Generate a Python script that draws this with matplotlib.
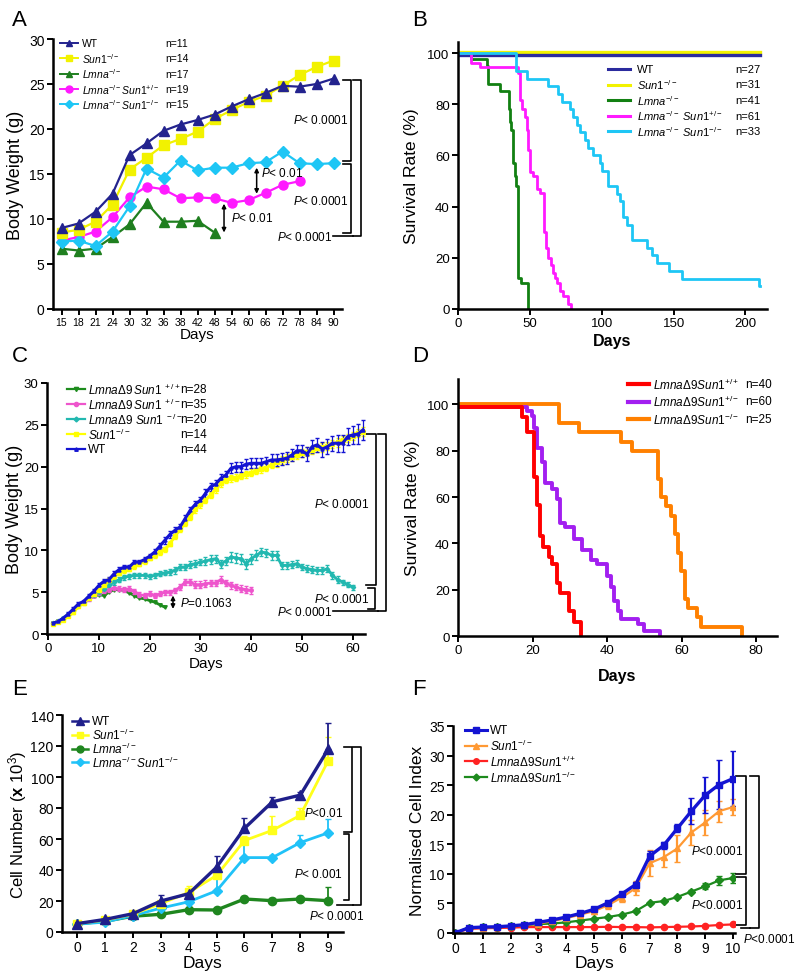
import numpy as np
import matplotlib
matplotlib.use("Agg")
import matplotlib.pyplot as plt
from matplotlib.lines import Line2D

plt.rcParams.update({
    "font.family": "Liberation Sans",
    "mathtext.fontset": "custom",
    "mathtext.rm": "Liberation Sans",
    "mathtext.it": "Liberation Sans:italic",
    "mathtext.bf": "Liberation Sans:bold",
    "mathtext.sf": "Liberation Sans",
})

# ---------------- data ----------------
# A: body weight, Lmna/Sun1
A_days = ["15", "18", "21", "24", "30", "32", "36", "38", "42", "48", "54", "60", "66", "72", "78", "84", "90"]
A_wt = [9.0, 9.5, 10.8, 12.8, 17.1, 18.4, 19.8, 20.5, 21.0, 21.6, 22.5, 23.3, 24.0, 24.8, 24.7, 25.0, 25.6]
A_sun = [8.5, 8.8, 9.7, 11.6, 15.5, 16.8, 18.2, 18.9, 19.7, 21.1, 22.1, 23.0, 23.7, 24.8, 26.0, 26.9, 27.6]
A_lmna = [6.7, 6.5, 6.7, 8.0, 9.4, 11.8, 9.7, 9.7, 9.8, 8.5]
A_het = [7.6, 8.0, 8.6, 10.2, 12.4, 13.6, 13.3, 12.3, 12.4, 12.3, 11.8, 12.1, 12.9, 13.8, 14.2]
A_ko = [7.5, 7.6, 7.0, 8.6, 11.4, 15.6, 14.6, 16.5, 15.4, 15.7, 15.7, 16.2, 16.3, 17.5, 16.2, 16.1, 16.2]
A_n = ["n=11", "n=14", "n=17", "n=19", "n=15"]

# B: survival (step curves)
B_wt_t, B_wt_s = [0, 210], [99.2, 99.2]
B_sun_t, B_sun_s = [0, 210], [100.5, 100.5]
B_lmna_t = [0, 9, 20, 21, 29, 35.5, 36, 37, 38, 38.5, 39.5, 40.5, 41.5, 42, 43.5, 48.5]
B_lmna_s = [100, 97.5, 95, 88, 85, 78, 73, 70, 61, 57, 52, 48, 44, 12, 10, 0]
B_het_t = [0, 9, 15, 42, 43, 44.2, 46.5, 47.7, 48.8, 50, 52.3, 54.7, 57, 59.8, 61.2, 62.8,
           64.4, 65.8, 67.5, 68.6, 70.9, 73.3, 76.8, 78.4]
B_het_s = [100, 96, 94.5, 92, 81.5, 78, 75, 70, 62, 53.5, 52, 47, 45.5, 30, 24, 20,
           17, 14, 12, 10, 7, 5, 2, 0]
B_ko_t = [0, 40.7, 47.7, 62.8, 69.8, 72.1, 77.9, 80.2, 82.6, 84.9, 88.4, 90.7, 94.2, 98.9,
          100, 104.7, 110.5, 112.8, 115.1, 117.5, 121, 131.4, 134.9, 138.4, 146.5, 155.8, 209.3, 210]
B_ko_s = [100, 93, 90, 87, 84, 81, 78, 75, 72, 69, 66, 63, 60, 57,
          54, 48, 45, 42, 36, 33, 27, 24, 21, 18, 15, 11.7, 9, 9]
B_n = ["n=27", "n=31", "n=41", "n=61", "n=33"]

# C: body weight, LmnaD9/Sun1 (daily)
C_wt = [1.3, 1.5, 1.9, 2.4, 3.0, 3.6, 3.9, 4.5, 5.1, 5.8, 6.3, 6.5, 7.2, 7.7, 8.0, 8.0, 8.6, 8.6, 8.9, 9.3,
        9.8, 10.5, 11.2, 11.9, 12.4, 12.8, 13.8, 14.8, 15.5, 16.0, 16.8, 17.6, 17.9, 18.6, 19.0, 19.8, 20.0, 20.0, 20.3, 20.4,
        20.4, 20.4, 20.6, 20.8, 20.8, 20.9, 21.0, 21.4, 21.9, 21.9, 21.5, 22.4, 22.6, 22.1, 22.4, 22.8, 22.8, 22.8, 23.6, 23.8,
        23.9, 24.4]
C_wt_err = [0.1, 0.1, 0.1, 0.2, 0.2, 0.2, 0.2, 0.3, 0.3, 0.3, 0.3, 0.3, 0.3, 0.3, 0.3, 0.3, 0.3, 0.3, 0.3, 0.3,
            0.4, 0.4, 0.4, 0.4, 0.4, 0.4, 0.4, 0.4, 0.4, 0.4, 0.5, 0.5, 0.5, 0.5, 0.5, 0.6, 0.6, 0.6, 0.6, 0.6,
            0.6, 0.6, 0.6, 0.7, 0.7, 0.7, 0.7, 0.7, 0.7, 0.7, 0.8, 0.8, 0.8, 0.9, 0.9, 0.9, 1.0, 1.0, 1.0, 1.1,
            1.2, 1.2]
C_sun = [1.2, 1.4, 1.7, 2.1, 2.6, 3.3, 3.7, 4.3, 4.8, 5.3, 5.8, 6.4, 6.9, 7.3, 7.6, 7.8, 8.1, 8.4, 8.7, 9.1,
         9.4, 9.8, 10.1, 10.8, 11.7, 12.5, 13.3, 14.0, 14.9, 15.5, 16.0, 16.6, 17.3, 18.0, 18.4, 18.6, 18.7, 18.9, 19.1, 19.3,
         19.5, 19.7, 19.9, 20.2, 20.5, 20.8, 21.0, 21.2, 21.4, 21.6, 21.8, 22.0, 22.2, 22.3, 22.5, 22.7, 22.9, 23.2, 23.4, 23.7,
         24.0, 24.2]
C_sun_err = [0.1, 0.1, 0.1, 0.1, 0.2, 0.2, 0.2, 0.2, 0.2, 0.2, 0.2, 0.2, 0.3, 0.3, 0.3, 0.3, 0.3, 0.3, 0.3, 0.3,
             0.3, 0.3, 0.3, 0.3, 0.3, 0.3, 0.4, 0.4, 0.4, 0.4, 0.4, 0.4, 0.4, 0.4, 0.4, 0.4, 0.4, 0.4, 0.4, 0.4,
             0.4, 0.4, 0.4, 0.4, 0.5, 0.5, 0.5, 0.5, 0.5, 0.5, 0.5, 0.5, 0.5, 0.5, 0.5, 0.5, 0.5, 0.5, 0.5, 0.5,
             0.5, 0.5]
C_ko = [1.3, 1.5, 1.9, 2.3, 2.8, 3.4, 3.8, 4.3, 4.7, 5.0, 5.4, 5.8, 6.2, 6.5, 6.8, 6.9, 7.0, 7.0, 7.0, 6.9,
        7.0, 7.2, 7.3, 7.4, 7.6, 8.0, 8.0, 8.3, 8.4, 8.6, 8.7, 8.9, 9.0, 8.4, 8.7, 9.2, 9.1, 9.0, 8.4, 9.0,
        9.4, 9.8, 9.7, 9.4, 9.4, 8.2, 8.2, 8.3, 8.4, 8.0, 7.8, 7.7, 7.6, 7.6, 7.8, 7.0, 6.5, 6.2, 5.9, 5.6]
C_ko_err = [0.1, 0.1, 0.1, 0.2, 0.2, 0.2, 0.2, 0.2, 0.3, 0.3, 0.3, 0.3, 0.3, 0.3, 0.3, 0.3, 0.3, 0.3, 0.3, 0.3,
            0.3, 0.3, 0.3, 0.4, 0.4, 0.4, 0.4, 0.4, 0.4, 0.4, 0.5, 0.5, 0.5, 0.5, 0.5, 0.6, 0.6, 0.6, 0.6, 0.6,
            0.6, 0.5, 0.5, 0.5, 0.5, 0.4, 0.4, 0.4, 0.4, 0.4, 0.4, 0.4, 0.4, 0.4, 0.4, 0.4, 0.4, 0.3, 0.3, 0.3]
C_het = [1.3, 1.5, 1.8, 2.3, 2.8, 3.4, 3.8, 4.2, 4.6, 4.9, 5.1, 5.3, 5.5, 5.4, 5.3, 5.4, 5.1, 4.7, 4.6, 4.8,
         4.6, 4.8, 5.0, 5.0, 5.2, 5.6, 6.2, 6.2, 5.9, 5.9, 6.0, 6.1, 6.1, 6.5, 6.1, 5.8, 5.6, 5.4, 5.3, 5.2]
C_het_err = [0.1, 0.1, 0.1, 0.1, 0.2, 0.2, 0.2, 0.2, 0.2, 0.2, 0.2, 0.3, 0.3, 0.3, 0.3, 0.3, 0.3, 0.3, 0.3, 0.3,
             0.3, 0.3, 0.3, 0.3, 0.3, 0.4, 0.4, 0.4, 0.4, 0.4, 0.4, 0.4, 0.4, 0.4, 0.4, 0.4, 0.4, 0.4, 0.4, 0.4]
C_lmna = [1.3, 1.5, 1.8, 2.3, 2.8, 3.4, 3.8, 4.2, 4.5, 4.7, 4.6, 5.0, 5.3, 5.3, 5.2, 4.9, 4.6, 4.3, 4.2, 4.0,
          3.8, 3.5, 3.2]
C_n = ["n=28", "n=35", "n=20", "n=14", "n=44"]

# D: survival LmnaD9
D_ff_t = [0, 17.1, 18.5, 20.3, 21.2, 21.9, 22.8, 24.3, 25.2, 26.6, 27.5, 29.7, 31.1, 32.9]
D_ff_s = [99, 94.7, 88.2, 68.6, 56.4, 43.4, 38.3, 34, 31, 23, 18.5, 11, 6, 0]
D_het_t = [0, 18.5, 19.8, 20.3, 21.2, 22.5, 23.4, 25.2, 26.6, 27.5, 28.8, 31.1, 33.3, 35.6,
           37.4, 40.1, 41, 41.9, 42.8, 43.7, 48.2, 50, 54.1]
D_het_s = [99, 97, 95, 90, 81, 75, 66, 63.5, 59, 49, 47, 42, 37, 33,
           31, 26, 21, 15, 11, 7.5, 5, 2, 0]
D_ko_t = [0, 27, 32.4, 43.7, 46.8, 53.6, 54.5, 55.9, 57.2, 58.1, 59, 59.9, 60.8, 61.7, 64, 65.3, 76.1]
D_ko_s = [100, 92, 88, 84, 80, 68, 60, 56, 52, 44, 36, 28, 16, 12, 8, 4, 0]
D_n = ["n=40", "n=60", "n=25"]

# E: cell number
E_days = [0, 1, 2, 3, 4, 5, 6, 7, 8, 9]
E_wt = [5.4, 8.1, 11.8, 20.0, 24.7, 41.8, 66.9, 84.0, 88.3, 118.0]
E_wt_err = [0.5, 1.0, 1.5, 3.6, 2.0, 7.5, 6.4, 2.8, 1.8, 17.0]
E_sun = [5.4, 7.7, 11.5, 18.3, 25.5, 36.5, 59.0, 65.6, 75.3, 110.5]
E_sun_err = [0.5, 1.0, 2.0, 2.0, 4.3, 4.0, 3.0, 9.4, 4.5, 15.6]
E_lmna = [5.4, 6.9, 10.2, 11.4, 14.4, 14.2, 21.3, 20.2, 21.3, 20.2]
E_lmna_err = [0.5, 0.5, 1.0, 1.0, 1.5, 1.5, 2.0, 1.5, 1.5, 8.8]
E_ko = [5.0, 6.4, 10.6, 15.4, 19.5, 26.6, 48.0, 48.0, 57.7, 64.0]
E_ko_err = [0.5, 0.5, 1.0, 2.0, 2.0, 9.0, 10.0, 2.0, 5.0, 9.0]

# F: normalised cell index
F_days = [0, 0.5, 1, 1.5, 2, 2.5, 3, 3.5, 4, 4.5, 5, 5.5, 6, 6.5, 7, 7.5, 8, 8.5, 9, 9.5, 10]
F_wt = [0, 0.9, 1.0, 1.05, 1.2, 1.4, 1.8, 2.2, 2.7, 3.3, 4.0, 5.1, 6.6, 8.2, 13.0, 14.8, 17.7, 20.6, 23.3, 25.1, 26.1]
F_wt_err = [0, 0.1, 0.1, 0.1, 0.1, 0.1, 0.15, 0.2, 0.2, 0.25, 0.3, 0.35, 0.4, 0.5, 0.8, 0.6, 0.7, 2.2, 3.0, 4.2, 4.6]
F_sun = [0, 0.8, 0.9, 1.0, 1.1, 1.3, 1.6, 2.0, 2.5, 3.1, 3.7, 4.7, 6.0, 7.6, 11.8, 12.8, 14.3, 17.0, 18.7, 20.6, 21.3]
F_sun_err = [0, 0.1, 0.1, 0.1, 0.1, 0.15, 0.2, 0.2, 0.3, 0.4, 0.5, 0.6, 0.8, 1.2, 2.2, 1.7, 2.3, 2.1, 2.1, 1.8, 1.4]
F_ff = [0, 0.7, 0.8, 0.85, 0.9, 1.0, 1.0, 1.0, 1.0, 1.0, 1.0, 1.05, 1.0, 1.0, 0.95, 1.0, 1.05, 1.1, 1.2, 1.35, 1.45]
F_ko = [0, 0.9, 1.0, 1.0, 1.1, 1.3, 1.5, 1.6, 1.8, 2.1, 2.4, 2.7, 3.1, 3.7, 5.1, 5.4, 6.1, 7.0, 7.9, 8.9, 9.3]
F_ko_err = [0, 0.05, 0.05, 0.05, 0.05, 0.05, 0.05, 0.1, 0.1, 0.1, 0.1, 0.1, 0.1, 0.15, 0.2, 0.2, 0.2, 0.2, 0.5, 0.8, 0.8]

# labels
WT = "WT"
SUN = r"$\mathit{Sun1}^{-/-}$"
LMNA = r"$\mathit{Lmna}^{-/-}$"
LS_HET = r"$\mathit{Lmna}^{-/-}\mathit{Sun1}^{+/-}$"
LS_KO = r"$\mathit{Lmna}^{-/-}\mathit{Sun1}^{-/-}$"
LS_HET_B = r"$\mathit{Lmna}^{-/-}\ \mathit{Sun1}^{+/-}$"
LS_KO_B = r"$\mathit{Lmna}^{-/-}\ \mathit{Sun1}^{-/-}$"
D9_FF = r"$\mathit{Lmna\Delta9Sun1}^{+/+}$"
D9_HET = r"$\mathit{Lmna\Delta9Sun1}^{+/-}$"
D9_KO = r"$\mathit{Lmna\Delta9Sun1}^{-/-}$"
D9_HET_C = r"$\mathit{Lmna\Delta9\,Sun1}^{\ +/-}$"
D9_FF_C = r"$\mathit{Lmna\Delta9\,Sun1}^{\ +/+}$"
D9_KO_C = r"$\mathit{Lmna\Delta9\ Sun1}^{\ -/-}$"
P4 = r"$\mathit{P}$< 0.0001"
P4b = r"$\mathit{P}$<0.0001"

W, H = 800, 979
fig = plt.figure(figsize=(8, 9.79), dpi=100)


def fx(px):
    return px / W


def fy(py):
    return 1 - py / H


def add_ax(l, t, r, b):
    ax = fig.add_axes([fx(l), fy(b), (r - l) / W, (b - t) / H])
    ax.spines[["top", "right"]].set_visible(False)
    ax.spines[["left", "bottom"]].set_linewidth(1.8)
    ax.tick_params(width=1.4, length=4, labelsize=10, direction="out", pad=2)
    return ax


def legend(rows, x0, x1, xt, y0, dy, fs, xn=None, ns=None):
    for i, (label, color, marker, ms, lw) in enumerate(rows):
        y = fy(y0 + i * dy)
        fig.add_artist(Line2D([fx(x0), fx(x1)], [y, y], color=color, lw=lw))
        if marker:
            fig.add_artist(Line2D([fx((x0 + x1) / 2)], [y], color=color, marker=marker, ms=ms, lw=0))
        fig.text(fx(xt), y, label, fontsize=fs, va="center")
        if xn is not None:
            fig.text(fx(xn), y, ns[i], fontsize=fs, va="center")


def bracket(ax, x_in, x_out, y_top, y_bot, lw=1.2):
    ax.plot([x_in, x_out, x_out, x_in], [y_top, y_top, y_bot, y_bot], color="black", lw=lw, clip_on=False)


def darrow(ax, x, y1, y2):
    ax.annotate("", xy=(x, y1), xytext=(x, y2), annotation_clip=False,
                arrowprops=dict(arrowstyle="<|-|>", lw=1.1, color="black", shrinkA=0, shrinkB=0,
                                mutation_scale=6))


def ptext(ax, x, y, s, ha="right", fs=8.5):
    ax.text(x, y, s, ha=ha, va="center", fontsize=fs, clip_on=False)


# ---------------- A ----------------
axA = add_ax(53, 40, 342, 310)
xa = np.arange(len(A_days))
c_navy, c_yel, c_grn, c_mag, c_cyan = "#23238e", "#f2f200", "#1f7f1f", "#ff1aff", "#1ec6f5"
axA.plot(xa[:len(A_lmna)], A_lmna, color=c_grn, marker="^", ms=6.5, lw=1.6)
axA.plot(xa[:len(A_het)], A_het, color=c_mag, marker="o", ms=6.5, lw=1.6)
axA.plot(xa, A_ko, color=c_cyan, marker="D", ms=6, lw=1.6)
axA.plot(xa, A_sun, color=c_yel, marker="s", ms=6.5, lw=1.6)
axA.plot(xa, A_wt, color=c_navy, marker="^", ms=6.5, lw=1.6)
axA.set_xlim(-0.5, 16.5)
axA.set_ylim(0, 30)
axA.set_xticks(xa)
axA.set_xticklabels(A_days, fontsize=7.5)
axA.set_yticks(range(0, 31, 5))
axA.set_ylabel("Body Weight (g)", fontsize=13)
axA.yaxis.set_label_coords(-0.10, 0.5)
axA.set_xlabel("Days", fontsize=11)
axA.xaxis.set_label_coords(0.5, -0.068)
bracket(axA, 16.58, 17.01, 25.4, 16.4)
bracket(axA, 16.58, 17.01, 16.1, 8.5)
bracket(axA, 17.16, 17.62, 25.4, 8.1)
axA.plot([15.99, 17.16], [8.1, 8.1], color="black", lw=1.2, clip_on=False)
ptext(axA, 16.85, 21.1, P4)
ptext(axA, 16.85, 12.0, P4)
ptext(axA, 15.95, 8.1, P4)
darrow(axA, 11.48, 15.7, 12.8)
ptext(axA, 11.75, 15.2, r"$\mathit{P}$< 0.01", ha="left")
darrow(axA, 9.56, 11.7, 8.5)
ptext(axA, 9.95, 10.2, r"$\mathit{P}$< 0.01", ha="left")
legend([(WT, c_navy, "^", 5, 1.4), (SUN, c_yel, "s", 5, 1.4), (LMNA, c_grn, "^", 5, 1.4),
        (LS_HET, c_mag, "o", 5, 1.4), (LS_KO, c_cyan, "D", 4.5, 1.4)],
       60, 78, 82, 44, 15.3, 7.5, xn=165, ns=A_n)

# ---------------- B ----------------
axB = add_ax(458, 43, 767, 310)
b_navy, b_grn = "#2b2b9e", "#128012"
axB.step(B_sun_t, B_sun_s, where="post", color=c_yel, lw=2.4)
axB.step(B_wt_t, B_wt_s, where="post", color=b_navy, lw=2.4)
axB.step(B_lmna_t, B_lmna_s, where="post", color=b_grn, lw=2.0)
axB.step(B_het_t, B_het_s, where="post", color=c_mag, lw=2.0)
axB.step(B_ko_t, B_ko_s, where="post", color=c_cyan, lw=2.0)
axB.set_xlim(0, 215)
axB.set_ylim(0, 104.3)
axB.set_xticks([0, 50, 100, 150, 200])
axB.set_yticks(range(0, 101, 20))
axB.tick_params(labelsize=9.5)
axB.set_ylabel("Survival Rate (%)", fontsize=12.5)
axB.yaxis.set_label_coords(-0.125, 0.5)
axB.set_xlabel("Days", fontsize=11.5, fontweight="bold")
axB.xaxis.set_label_coords(0.5, -0.09)
legend([(WT, b_navy, None, 0, 2.2), (SUN, c_yel, None, 0, 2.2), (LMNA, b_grn, None, 0, 2.2),
        (LS_HET_B, c_mag, None, 0, 2.2), (LS_KO_B, c_cyan, None, 0, 2.2)],
       608, 630, 637, 70, 15.5, 8, xn=735, ns=B_n)

# ---------------- C ----------------
axC = add_ax(47, 384, 365, 635)
cc_grn, cc_mag, cc_cyan, cc_yel, cc_blue = "#1d8c1d", "#ee55cc", "#22b8b0", "#ffff00", "#1414d2"
d_wt = np.arange(1, len(C_wt) + 1)
axC.plot(np.arange(1, len(C_lmna) + 1), C_lmna, color=cc_grn, marker="v", ms=2.5, lw=2)
axC.errorbar(np.arange(1, len(C_het) + 1), C_het, yerr=C_het_err, color=cc_mag, marker="o", ms=2.5,
             lw=2, elinewidth=0.9, capsize=1.2)
axC.errorbar(np.arange(1, len(C_ko) + 1), C_ko, yerr=C_ko_err, color=cc_cyan, marker="D", ms=2.2,
             lw=2, elinewidth=0.9, capsize=1.2)
axC.errorbar(d_wt, C_sun, yerr=C_sun_err, color=cc_yel, marker="s", ms=2.2,
             lw=2.2, elinewidth=0.9, capsize=1.2)
axC.errorbar(d_wt, C_wt, yerr=C_wt_err, color=cc_blue, marker="^", ms=2.2,
             lw=2.2, elinewidth=0.9, capsize=1.2)
axC.set_xlim(-0.2, 62.4)
axC.set_ylim(0, 30)
axC.set_xticks(range(0, 61, 10))
axC.set_yticks(range(0, 31, 5))
axC.tick_params(labelsize=9.5)
axC.set_ylabel("Body Weight (g)", fontsize=13)
axC.yaxis.set_label_coords(-0.075, 0.5)
axC.set_xlabel("Days", fontsize=11)
axC.xaxis.set_label_coords(0.5, -0.088)
bracket(axC, 62.6, 64.6, 23.9, 5.8)
bracket(axC, 62.9, 64.3, 5.5, 3.0)
bracket(axC, 64.9, 66.6, 23.9, 2.7)
axC.plot([56.1, 64.9], [2.7, 2.7], color="black", lw=1.2, clip_on=False)
ptext(axC, 63.3, 15.6, P4)
ptext(axC, 63.3, 4.2, P4)
ptext(axC, 56.0, 2.7, P4)
darrow(axC, 24.6, 4.6, 3.0)
ptext(axC, 25.9, 3.8, r"$\mathit{P}$=0.1063", ha="left")
legend([(D9_FF_C, cc_grn, "v", 3, 1.6), (D9_HET_C, cc_mag, "o", 3, 1.6), (D9_KO_C, cc_cyan, "D", 2.5, 1.6),
        (SUN, cc_yel, "s", 2.5, 1.6), (WT, cc_blue, "^", 2.5, 1.6)],
       67, 85, 88, 390, 15, 8.5, xn=180, ns=C_n)

# ---------------- D ----------------
axD = add_ax(458, 380, 777, 637)
d_red, d_pur, d_org = "#ff0000", "#a21ff0", "#ff8000"
axD.step(D_ko_t, D_ko_s, where="post", color=d_org, lw=2.8)
axD.step(D_het_t, D_het_s, where="post", color=d_pur, lw=2.8)
axD.step(D_ff_t, D_ff_s, where="post", color=d_red, lw=2.8)
axD.set_xlim(0, 85.6)
axD.set_ylim(0, 111)
axD.set_xticks(range(0, 81, 20))
axD.set_yticks(range(0, 101, 20))
axD.tick_params(labelsize=9.5)
axD.set_ylabel("Survival Rate (%)", fontsize=12.5)
axD.yaxis.set_label_coords(-0.12, 0.5)
axD.set_xlabel("Days", fontsize=11.5, fontweight="bold")
axD.xaxis.set_label_coords(0.5, -0.125)
legend([(D9_FF, d_red, None, 0, 3), (D9_HET, d_pur, None, 0, 3), (D9_KO, d_org, None, 0, 3)],
       628, 649, 653, 385, 17.5, 8.5, xn=745, ns=D_n)

# ---------------- E ----------------
axE = add_ax(62, 716, 343, 933)
e_navy, e_yel, e_grn, e_cyan = "#1f1f8a", "#ffff1a", "#1f861f", "#20c2f8"
zero = [0] * len(E_days)
axE.errorbar(E_days, E_lmna, yerr=[zero, E_lmna_err], color=e_grn, marker="o", ms=6, lw=2.4,
             elinewidth=1.3, capsize=2.5)
axE.errorbar(E_days, E_ko, yerr=[zero, E_ko_err], color=e_cyan, marker="D", ms=5, lw=2.0,
             elinewidth=1.3, capsize=2.5)
axE.errorbar(E_days, E_sun, yerr=[zero, E_sun_err], color=e_yel, marker="s", ms=5.5, lw=2.0,
             elinewidth=1.3, capsize=2.5)
axE.errorbar(E_days, E_wt, yerr=[zero, E_wt_err], color=e_navy, marker="^", ms=6.5, lw=2.4,
             elinewidth=1.3, capsize=2.5)
axE.set_xlim(-0.54, 9.53)
axE.set_ylim(0, 140)
axE.set_xticks(E_days)
axE.set_yticks(range(0, 141, 20))
axE.set_ylabel(r"Cell Number ($\mathbf{x}$ 10$^3$)", fontsize=12)
axE.yaxis.set_label_coords(-0.118, 0.5)
axE.set_xlabel("Days", fontsize=12.5)
axE.xaxis.set_label_coords(0.5, -0.105)
bracket(axE, 9.55, 9.84, 119.6, 64.7)
bracket(axE, 9.55, 9.73, 63.2, 20.4)
bracket(axE, 9.9, 10.17, 119.6, 17.6)
axE.plot([9.31, 9.9], [17.6, 17.6], color="black", lw=1.2, clip_on=False)
ptext(axE, 9.52, 77.2, r"$\mathit{P}$<0.01")
ptext(axE, 9.52, 37.5, r"$\mathit{P}$< 0.001")
ptext(axE, 9.31, 10.7, P4, ha="center")
legend([(WT, e_navy, "^", 5.5, 1.8), (SUN, e_yel, "s", 5, 1.8), (LMNA, e_grn, "o", 5, 1.8),
        (LS_KO, e_cyan, "D", 4.5, 1.8)],
       72, 88, 92, 722, 13.8, 8.5)

# ---------------- F ----------------
axF = add_ax(453, 727, 735, 934)
f_blue, f_org, f_red, f_grn = "#1414d2", "#ff9933", "#ff2222", "#1d8a1d"
axF.errorbar(F_days, F_ff, color=f_red, marker="o", ms=4.5, lw=1.6)
axF.errorbar(F_days, F_ko, yerr=F_ko_err, color=f_grn, marker="D", ms=4, lw=1.6,
             elinewidth=1.6, capsize=2.5)
axF.errorbar(F_days, F_sun, yerr=F_sun_err, color=f_org, marker="^", ms=4.5, lw=1.6,
             elinewidth=1.6, capsize=2.5)
axF.errorbar(F_days, F_wt, yerr=F_wt_err, color=f_blue, marker="s", ms=4.5, lw=2.4,
             elinewidth=1.6, capsize=2.5)
axF.set_xlim(-0.07, 10.07)
axF.set_ylim(0, 35)
axF.set_xticks(range(0, 11))
axF.set_yticks(range(0, 36, 5))
axF.set_ylabel("Normalised Cell Index", fontsize=12.5)
axF.yaxis.set_label_coords(-0.098, 0.5)
axF.set_xlabel("Days", fontsize=12.5)
axF.xaxis.set_label_coords(0.5, -0.105)
bracket(axF, 10.12, 10.46, 26.6, 10.0)
bracket(axF, 10.12, 10.48, 9.4, 1.3)
bracket(axF, 10.6, 10.93, 26.6, 0.84)
axF.plot([10.3, 10.6], [0.84, 0.84], color="black", lw=1.2, clip_on=False)
ptext(axF, 10.36, 13.9, P4b)
ptext(axF, 10.36, 4.9, P4b)
ptext(axF, 10.36, -1.0, P4b, ha="left")
legend([(WT, f_blue, "s", 4.5, 2.2), (SUN, f_org, "^", 4, 1.6), (D9_FF, f_red, "o", 4, 1.6),
        (D9_KO, f_grn, "D", 3.5, 1.6)],
       465, 487, 490, 731, 15.7, 8.5)

# panel letters
for letter, px, py in [("A", 12, 20), ("B", 412, 20), ("C", 12, 357), ("D", 412, 357),
                       ("E", 12, 690), ("F", 412, 690)]:
    fig.text(fx(px), fy(py), letter, fontsize=16, va="center", ha="left")

fig.savefig("out.png", dpi=100)
